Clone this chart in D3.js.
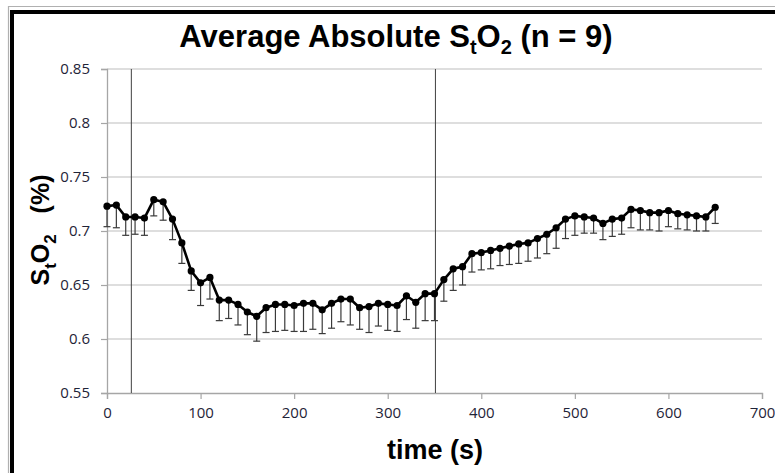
<!DOCTYPE html>
<html>
<head>
<meta charset="utf-8">
<script src="https://cdn.jsdelivr.net/npm/d3@7"></script>
<style>
  body { margin: 0; background: #fff; }
  svg { display: block; font-family: "Liberation Sans", Arial, sans-serif; }
</style>
</head>
<body>
<svg width="775" height="473"></svg>
<script>
// time points (s)
const times = [0,10,20,30,40,50,60,70,80,90,100,110,120,130,140,150,160,170,180,190,
  200,210,220,230,240,250,260,270,280,290,300,310,320,330,340,350,360,370,380,390,
  400,410,420,430,440,450,460,470,480,490,500,510,520,530,540,550,560,570,580,590,
  600,610,620,630,640,650];

// mean StO2
const meanSto2 = [0.723,0.724,0.713,0.713,0.712,0.729,0.727,0.711,0.689,0.663,
  0.652,0.657,0.636,0.636,0.632,0.625,0.621,0.629,0.632,0.632,
  0.631,0.633,0.633,0.627,0.633,0.637,0.637,0.629,0.630,0.633,
  0.632,0.631,0.640,0.634,0.642,0.642,0.655,0.665,0.667,0.679,
  0.680,0.682,0.684,0.686,0.688,0.689,0.693,0.697,0.703,0.711,
  0.714,0.713,0.712,0.707,0.711,0.712,0.720,0.719,0.717,0.717,
  0.719,0.716,0.715,0.714,0.713,0.722];

// lower error bar length
const errLow = [0.019,0.021,0.017,0.016,0.016,0.015,0.017,0.019,0.019,0.018,
  0.021,0.020,0.019,0.017,0.019,0.021,0.023,0.023,0.025,0.024,
  0.024,0.026,0.024,0.022,0.023,0.021,0.024,0.020,0.024,0.021,
  0.024,0.024,0.022,0.024,0.025,0.025,0.020,0.020,0.017,0.017,
  0.016,0.017,0.016,0.017,0.018,0.017,0.018,0.018,0.019,0.018,
  0.018,0.015,0.014,0.015,0.016,0.015,0.017,0.018,0.016,0.017,
  0.015,0.014,0.014,0.014,0.013,0.015];

const markerTimes = [26, 351];
const xTicks = [0,100,200,300,400,500,600,700];
const yTicks = [0.55,0.6,0.65,0.7,0.75,0.8,0.85];

const data = times.map((t, i) => ({ t: t, v: meanSto2[i], e: errLow[i] }));

const svg = d3.select("svg");
const margin = { top: 69, right: 13, bottom: 80, left: 107 };
const width = 762 - margin.left, height = 393 - margin.top;

// frame
svg.append("path").attr("d", "M8.5,473 V6.5 H775").attr("fill", "none").attr("stroke", "#b0b0b0").attr("stroke-width", 1.2);
svg.append("path").attr("d", "M12,473 V12 H775").attr("fill", "none").attr("stroke", "#000").attr("stroke-width", 4);

const x = d3.scaleLinear().domain([0, 700]).range([0, width]);
const y = d3.scaleLinear().domain([0.55, 0.85]).range([height, 0]);

const g = svg.append("g").attr("transform", "translate(" + margin.left + "," + margin.top + ")");

// gridlines
g.selectAll(".grid").data(yTicks.slice(1)).enter().append("line")
  .attr("x1", 0).attr("x2", width)
  .attr("y1", d => y(d)).attr("y2", d => y(d))
  .attr("stroke", "#bdbdbd").attr("stroke-width", 1.2);

// y axis
const yAxis = g.append("g").call(d3.axisLeft(y).tickValues(yTicks).tickFormat(d => String(+d.toFixed(2))).tickSize(6).tickPadding(11));
// x axis
const xAxis = g.append("g").attr("transform", "translate(0," + height + ")")
  .call(d3.axisBottom(x).tickValues(xTicks).tickSize(6).tickPadding(8));
[yAxis, xAxis].forEach(a => {
  a.select(".domain").attr("stroke", "#a6a6a6").attr("stroke-width", 1.3);
  a.selectAll(".tick line").attr("stroke", "#a6a6a6").attr("stroke-width", 1.2);
  a.selectAll("text").attr("font-size", 15).attr("fill", "#1f2438").attr("font-family", "'Open Sans', sans-serif");
});

// event lines
g.selectAll(".evt").data(markerTimes).enter().append("line")
  .attr("x1", d => x(d)).attr("x2", d => x(d))
  .attr("y1", 0).attr("y2", height)
  .attr("stroke", "#404040").attr("stroke-width", 1);

// error bars
const eb = g.append("g").attr("stroke", "#3a3a3a").attr("stroke-width", 1.2);
eb.selectAll(".v").data(data).enter().append("line")
  .attr("x1", d => x(d.t)).attr("x2", d => x(d.t))
  .attr("y1", d => y(d.v)).attr("y2", d => y(d.v - d.e));
eb.selectAll(".c").data(data).enter().append("line")
  .attr("x1", d => x(d.t) - 3.5).attr("x2", d => x(d.t) + 3.5)
  .attr("y1", d => y(d.v - d.e)).attr("y2", d => y(d.v - d.e));

// line + markers
g.append("path").datum(data)
  .attr("fill", "none").attr("stroke", "#000").attr("stroke-width", 2.6)
  .attr("stroke-linejoin", "round")
  .attr("d", d3.line().x(d => x(d.t)).y(d => y(d.v)));
g.selectAll(".pt").data(data).enter().append("circle")
  .attr("cx", d => x(d.t)).attr("cy", d => y(d.v)).attr("r", 3.6).attr("fill", "#000");

// title
const title = svg.append("text").attr("x", 396).attr("y", 47).attr("text-anchor", "middle")
  .attr("font-size", 31).attr("font-weight", "bold");
title.append("tspan").text("Average Absolute S");
title.append("tspan").text("t").attr("font-size", 20).attr("dy", 7);
title.append("tspan").text("O").attr("dy", -7);
title.append("tspan").text("2").attr("font-size", 20).attr("dy", 7);
title.append("tspan").text(" (n = 9)").attr("dy", -7);

// y label
const yl = svg.append("text").attr("transform", "translate(49,230) rotate(-90)").attr("text-anchor", "middle")
  .attr("font-size", 25).attr("font-weight", "bold");
yl.append("tspan").text("S");
yl.append("tspan").text("t").attr("font-size", 17).attr("dy", 7);
yl.append("tspan").text("O").attr("dy", -7);
yl.append("tspan").text("2").attr("font-size", 17).attr("dy", 7);
yl.append("tspan").text("\u00a0\u00a0\u00a0(%)").attr("dy", -7);

// x label
svg.append("text").attr("x", 435).attr("y", 459).attr("text-anchor", "middle")
  .attr("font-size", 27).attr("font-weight", "bold").text("time (s)");
</script>
</body>
</html>
